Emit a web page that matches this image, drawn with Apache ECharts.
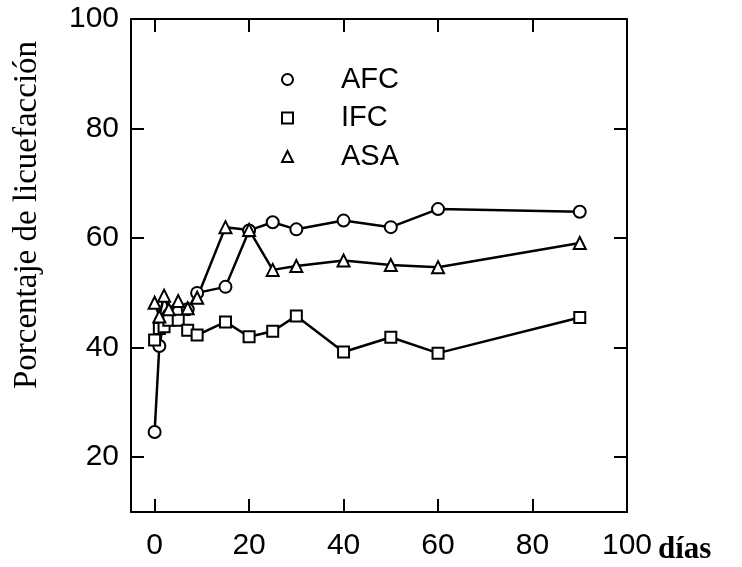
<!DOCTYPE html>
<html>
<head>
<meta charset="utf-8">
<script src="https://cdn.jsdelivr.net/npm/echarts@6/dist/echarts.min.js"></script>
<style>html,body{margin:0;padding:0;background:#fff}#c{width:742px;height:567px}</style>
</head>
<body>
<div id="c"></div>
<script>
const days = [0, 1, 2, 3, 5, 7, 9, 15, 20, 25, 30, 40, 50, 60, 90];
const afc = [24.6, 40.3, 45.0, 46.0, 46.5, 47.0, 50.0, 51.1, 61.4, 62.9, 61.6, 63.2, 62.0, 65.3, 64.8];
const ifc = [41.4, 43.5, 43.8, 45.0, 45.0, 43.2, 42.3, 44.7, 42.0, 43.0, 45.8, 39.2, 41.9, 39.0, 45.5];
const asa = [48.2, 45.7, 49.5, 47.0, 48.5, 47.2, 49.1, 62.0, 61.5, 54.2, 54.9, 55.9, 55.1, 54.7, 59.1];
const xTicks = [0, 20, 40, 60, 80, 100];
const yTicks = [20, 40, 60, 80, 100];
const seriesNames = ['AFC', 'IFC', 'ASA'];
const yTitle = 'Porcentaje de licuefacción';
const xTitle = 'días';

const pair = (xs, ys) => xs.map((x, i) => [x, ys[i]]);
const font = 'Liberation Sans, Arial, sans-serif';
const serif = 'Liberation Serif, Times New Roman, serif';
const tickStyle = {color: '#000', width: 2};
const axisCommon = {
  type: 'value',
  axisLine: {show: true, onZero: false, lineStyle: {color: '#000', width: 2}},
  splitLine: {show: false},
};
const chart = echarts.init(document.getElementById('c'));
chart.setOption({
  animation: false,
  backgroundColor: '#fff',
  grid: {left: 131, right: 115, top: 19, bottom: 55},
  title: {text: xTitle, left: 653, top: 529,
    textStyle: {fontFamily: serif, fontWeight: 'bold', fontSize: 31, color: '#000'}},
  graphic: [{
    type: 'text', x: 27, y: 215, rotation: Math.PI / 2,
    style: {text: yTitle, font: '33px ' + serif, fill: '#000', align: 'center', verticalAlign: 'middle'}
  }],
  legend: {
    orient: 'vertical', left: 276, top: 60, itemWidth: 11, itemHeight: 11, itemGap: 9.5,
    textStyle: {fontFamily: font, fontSize: 29, color: '#000', lineHeight: 29, padding: [0, 0, 0, 43]},
    data: [
      {name: seriesNames[0], icon: 'circle', itemStyle: {color: '#fff', borderColor: '#000', borderWidth: 2}},
      {name: seriesNames[1], icon: 'rect', itemStyle: {color: '#fff', borderColor: '#000', borderWidth: 2}},
      {name: seriesNames[2], icon: 'triangle', itemStyle: {color: '#fff', borderColor: '#000', borderWidth: 2}}
    ]
  },
  xAxis: [
    Object.assign({}, axisCommon, {min: -5, max: 100, position: 'bottom',
      axisTick: {show: true, inside: true, length: 13, lineStyle: tickStyle, customValues: xTicks},
      axisLabel: {show: true, margin: 19, fontFamily: font, fontSize: 30, color: '#000', customValues: xTicks}}),
    Object.assign({}, axisCommon, {min: -5, max: 100, position: 'top',
      axisTick: {show: true, inside: true, length: 13, lineStyle: tickStyle, customValues: xTicks},
      axisLabel: {show: false}})
  ],
  yAxis: [
    Object.assign({}, axisCommon, {min: 10, max: 100, position: 'left',
      axisTick: {show: true, inside: true, length: 13, lineStyle: tickStyle, customValues: yTicks},
      axisLabel: {show: true, margin: 12, fontFamily: font, fontSize: 30, color: '#000', customValues: yTicks}}),
    Object.assign({}, axisCommon, {min: 10, max: 100, position: 'right',
      axisTick: {show: true, inside: true, length: 13, lineStyle: tickStyle, customValues: yTicks},
      axisLabel: {show: false}})
  ],
  series: [
    {name: seriesNames[0], type: 'line', data: pair(days, afc), symbol: 'emptyCircle', symbolSize: 12,
      lineStyle: {color: '#000', width: 2.5}, itemStyle: {color: '#000', borderColor: '#000', borderWidth: 2}},
    {name: seriesNames[1], type: 'line', data: pair(days, ifc), symbol: 'emptyRect', symbolSize: 11,
      lineStyle: {color: '#000', width: 2.5}, itemStyle: {color: '#000', borderColor: '#000', borderWidth: 2}},
    {name: seriesNames[2], type: 'line', data: pair(days, asa), symbol: 'emptyTriangle', symbolSize: 12,
      lineStyle: {color: '#000', width: 2.5}, itemStyle: {color: '#000', borderColor: '#000', borderWidth: 2}}
  ]
});
</script>
</body>
</html>
